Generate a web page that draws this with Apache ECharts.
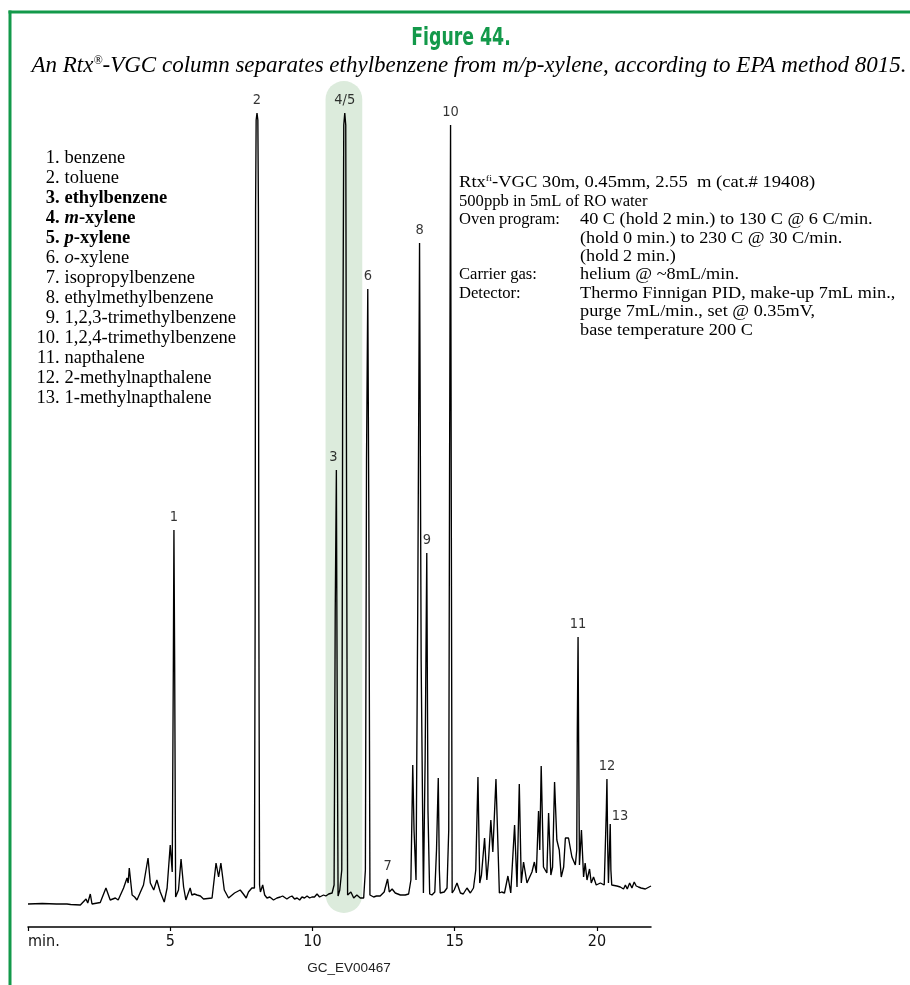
<!DOCTYPE html>
<html><head><meta charset="utf-8">
<script src="https://cdn.jsdelivr.net/npm/echarts@6/dist/echarts.min.js"></script>
<style>html,body{margin:0;padding:0;background:#fff}#c{width:910px;height:985px}</style>
</head><body><div id="c"></div>
<script>
// ---- chromatogram trace (retention time in min, detector signal in arbitrary units) ----
const traceTime = [
 0.00,0.50,1.00,1.37,1.42,1.50,1.84,2.04,2.10,2.19,2.25,2.54,2.74,2.89,3.07,3.17,3.36,3.48,3.52,3.56,
 3.66,3.75,3.83,4.06,4.22,4.30,4.42,4.53,4.65,4.79,4.89,5.00,5.07,5.11,5.13,5.155,5.19,5.29,5.38,5.47,
 5.55,5.61,5.70,5.76,5.85,5.94,6.06,6.17,6.47,6.61,6.70,6.78,6.90,7.05,7.26,7.46,7.57,7.67,7.75,7.87,
 7.96,7.985,8.00,8.02,8.05,8.08,8.10,8.115,8.14,8.17,8.25,8.32,8.40,8.50,8.63,8.75,8.87,8.95,9.10,9.20,
 9.28,9.37,9.46,9.55,9.63,9.72,9.81,9.90,9.98,10.07,10.16,10.25,10.39,10.47,10.57,10.69,10.76,10.80,10.84,10.87,
 10.90,10.96,11.03,11.06,11.10,11.135,11.17,11.20,11.235,11.35,11.45,11.56,11.68,11.80,11.86,11.90,11.944,11.98,12.02,12.15,
 12.25,12.38,12.52,12.64,12.70,12.80,12.91,13.00,13.09,13.26,13.38,13.46,13.50,13.525,13.57,13.64,13.70,13.764,13.82,13.90,
 13.96,14.018,14.06,14.12,14.20,14.30,14.36,14.422,14.46,14.49,14.63,14.73,14.79,14.82,14.854,14.88,14.91,14.98,15.08,15.20,
 15.30,15.43,15.55,15.66,15.74,15.817,15.88,15.94,16.05,16.13,16.19,16.27,16.34,16.45,16.57,16.65,16.75,16.87,16.97,17.105,
 17.19,17.27,17.34,17.42,17.54,17.60,17.715,17.80,17.87,17.947,17.99,18.04,18.12,18.24,18.30,18.38,18.44,18.51,18.59,18.675,
 18.745,18.83,18.89,19.00,19.12,19.24,19.29,19.31,19.336,19.36,19.385,19.455,19.53,19.585,19.65,19.74,19.80,19.88,19.975,20.12,
 20.256,20.33,20.351,20.38,20.404,20.44,20.467,20.49,20.52,20.70,20.82,20.935,21.00,21.065,21.15,21.23,21.31,21.38,21.46,21.55,
 21.70,21.90
];
const traceSignal = [
 6,6.5,6,6,7.5,5.5,5,11,7,16,6,7.5,22,10,12,10,22,32,27,42,
 15,13,10,25,52,27,20,30,18,8,22,65,38,250,380,250,13,20,51,23,
 10,15,22,15,16,15,14,11,12,47,33,47,20,12,17,20,16,12,18,22,
 22,300,700,790,797,790,700,300,25,18,25,15,12,13,10,12,13,14,11,13,
 14,11,12,10,13,12,14,12,13,13,16,13,15,14,16,17,25,300,440,200,
 14,20,40,500,785,797,785,400,15,18,12,15,12,12,40,450,621,400,15,13,
 14,14,18,31,18,21,17,16,15,15,16,30,100,145,80,30,300,667,250,17,
 150,357,100,16,15,18,60,132,40,17,18,22,80,450,785,400,17,20,27,17,
 16,22,17,22,40,133,27,35,72,30,50,90,58,131,17,18,17,34,17,85,
 23,126,27,48,27,25,38,48,37,99,60,144,43,37,97,35,43,128,70,60,
 33,43,72,72,53,45,60,180,273,150,45,80,33,47,30,41,27,33,25,27,
 25,100,131,60,27,60,86,40,25,24,23,21,25,21,27,22,28,24,23,22,
 21,24
];

// ---- peak labels ----
const peakLabels  = ['1','2','3','4/5','6','7','8','9','10','11','12','13'];
const peakTimes   = [5.13, 8.05, 10.84, 11.135, 11.944, 12.64, 13.764, 14.018, 14.854, 19.336, 20.351, 20.467];
const peakHeights = [380, 797, 440, 797, 621, 31, 667, 357, 785, 273, 131, 86];

// ---- x axis ----
const xTickValues = [0, 5, 10, 15, 20];
const xTickLabels = ['min.', '5', '10', '15', '20'];

// ---- highlighted region (m/p-xylene co-elution) ----
const highlightTimes = [10.46, 11.75];
const highlightSignals = [-3, 829];

// ---- compound list ----
const compoundNames = ['benzene','toluene','ethylbenzene','m-xylene','p-xylene','o-xylene','isopropylbenzene',
  'ethylmethylbenzene','1,2,3-trimethylbenzene','1,2,4-trimethylbenzene','napthalene','2-methylnapthalene','1-methylnapthalene'];
const compoundBold = [false,false,true,true,true,false,false,false,false,false,false,false,false];
const compoundItalicPrefix = ['','','','m','p','o','','','','','','',''];

// ---- method text ----
const methodCol1 = ['Rtx{sup|fi}-VGC 30m, 0.45mm, 2.55  m (cat.# 19408)','500ppb in 5mL of RO water','Oven program:','','','Carrier gas:','Detector:','',''];
const methodCol2 = ['','','40 C (hold 2 min.) to 130 C @ 6 C/min.','(hold 0 min.) to 230 C @ 30 C/min.','(hold 2 min.)',
  'helium @ ~8mL/min.','Thermo Finnigan PID, make-up 7mL min.,','purge 7mL/min., set @ 0.35mV,','base temperature 200 C'];

const titleText = 'Figure 44.';
const subtitleText = 'An Rtx{sup|®}-VGC column separates ethylbenzene from m/p-xylene, according to EPA method 8015.';
const codeText = 'GC_EV00467';

const NARROW = "'Liberation Sans Narrow','DejaVu Sans Condensed','Liberation Sans',sans-serif";
const SERIF = "'Liberation Serif','DejaVu Serif',serif";
const SANS = "'Liberation Sans',Arial,sans-serif";
const GREEN = '#13994a';

const chart = echarts.init(document.getElementById('c'), null, {renderer: 'canvas'});

const option = {
  animation: false,
  backgroundColor: '#fff',
  grid: {left: 28, right: 259, top: 70, bottom: 58, containLabel: false},
  xAxis: {
    type: 'value', min: 0, max: 21.9, interval: 5,
    axisLine: {show: true, onZero: false, lineStyle: {color: '#000', width: 1.5}},
    axisTick: {show: true, length: 4, customValues: xTickValues, lineStyle: {color: '#000', width: 1.2}},
    axisLabel: {
      show: true, customValues: xTickValues, margin: 7, color: '#111',
      fontFamily: NARROW, fontSize: 16, alignMinLabel: 'left',
      formatter: v => { const i = xTickValues.indexOf(Math.round(v)); return i >= 0 ? xTickLabels[i] : ''; }
    },
    splitLine: {show: false}
  },
  yAxis: {type: 'value', min: -17, max: 840, show: false, splitLine: {show: false}},
  series: [
    {
      type: 'line', z: 3,
      data: traceTime.map((t, i) => [t, traceSignal[i]]),
      showSymbol: false, symbol: 'none', smooth: false,
      lineStyle: {color: '#000', width: 1.35},
      clip: false
    },
    {
      type: 'scatter', z: 4, symbolSize: 1, itemStyle: {color: 'rgba(0,0,0,0)'},
      data: peakLabels.map((n, i) => {
        const d = {name: n, value: [peakTimes[i], peakHeights[i]]};
        if (n === '13') d.label = {position: 'right', distance: 1, offset: [0, -8]};
        if (n === '3') d.label = {offset: [-3, 0]};
        return d;
      }),
      label: {show: true, position: 'top', distance: 5, formatter: p => p.name,
        color: '#000', fontFamily: NARROW, fontSize: 14.5},
      silent: true
    }
  ]
};
chart.setOption(option);

const pA = chart.convertToPixel({seriesIndex: 0}, [highlightTimes[0], highlightSignals[1]]);
const pB = chart.convertToPixel({seriesIndex: 0}, [highlightTimes[1], highlightSignals[0]]);

const g = [];
// highlight pill
g.push({type: 'rect', z: 0, shape: {x: pA[0], y: pA[1], width: pB[0] - pA[0], height: pB[1] - pA[1], r: (pB[0] - pA[0]) / 2},
  style: {fill: '#dcebdc'}});
// frame
g.push({type: 'line', z: 10, shape: {x1: 8.5, y1: 12, x2: 910, y2: 12}, style: {stroke: GREEN, lineWidth: 3}});
g.push({type: 'line', z: 10, shape: {x1: 10, y1: 10.5, x2: 10, y2: 985}, style: {stroke: GREEN, lineWidth: 3}});
// title & subtitle
g.push({type: 'text', z: 10, x: 461, y: 38, scaleX: 0.77, originX: 0, originY: 0,
  style: {text: titleText, fill: GREEN, font: 'bold 25px ' + NARROW, align: 'center', verticalAlign: 'middle'}});
g.push({type: 'text', z: 10, x: 469, y: 66, style: {text: subtitleText, fill: '#000', align: 'center', verticalAlign: 'middle',
  fontFamily: SERIF, fontSize: 23, fontStyle: 'italic',
  rich: {sup: {fontFamily: SERIF, fontSize: 12, fontStyle: 'italic', verticalAlign: 'top', fill: '#000'}}}});
// compound list
compoundNames.forEach((name, i) => {
  const y = 158 + i * 20;
  const w = compoundBold[i] ? 'bold' : 'normal';
  g.push({type: 'text', z: 10, x: 59.5, y, style: {text: (i + 1) + '.', fill: '#000', align: 'right', verticalAlign: 'middle',
    fontFamily: SERIF, fontSize: 18.5, fontWeight: w}});
  const pre = compoundItalicPrefix[i];
  const rest = pre ? name.slice(pre.length) : name;
  const txt = pre ? '{it|' + pre + '}{nm|' + rest + '}' : '{nm|' + rest + '}';
  g.push({type: 'text', z: 10, x: 64.5, y, style: {text: txt, fill: '#000', align: 'left', verticalAlign: 'middle',
    fontFamily: SERIF, fontSize: 18.5, fontWeight: w,
    rich: {
      it: {fontFamily: SERIF, fontSize: 18.5, fontWeight: w, fontStyle: 'italic', fill: '#000'},
      nm: {fontFamily: SERIF, fontSize: 18.5, fontWeight: w, fill: '#000'}
    }}});
});
// method text
const methodRich = {sup: {fontFamily: SERIF, fontSize: 9, verticalAlign: 'top', fill: '#000'}};
methodCol1.forEach((s, i) => {
  const y = 183 + i * 18.4;
  if (s) g.push({type: 'text', z: 10, x: 459, y, scaleX: i === 0 ? 1.12 : 1,
    style: {text: s, fill: '#000', align: 'left', verticalAlign: 'middle',
    fontFamily: SERIF, fontSize: 16.6, rich: methodRich}});
  if (methodCol2[i]) g.push({type: 'text', z: 10, x: 580, y, scaleX: 1.1,
    style: {text: methodCol2[i], fill: '#000', align: 'left', verticalAlign: 'middle',
    fontFamily: SERIF, fontSize: 16.6}});
});
// code under axis
g.push({type: 'text', z: 10, x: 349, y: 968, style: {text: codeText, fill: '#222', align: 'center', verticalAlign: 'middle',
  fontFamily: SANS, fontSize: 13.5}});

chart.setOption({graphic: g});
</script></body></html>
